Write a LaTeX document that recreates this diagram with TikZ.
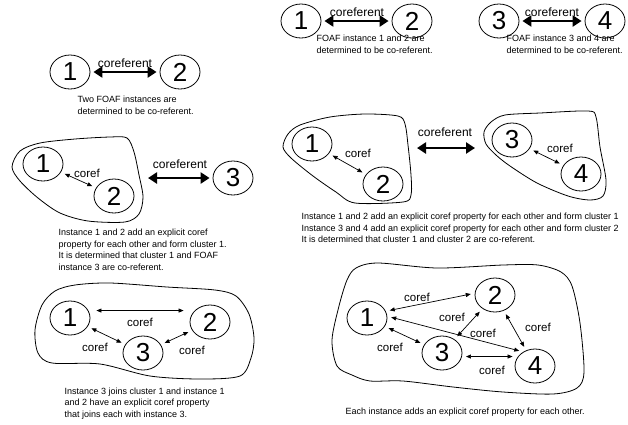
\documentclass[tikz,border=0pt]{standalone}
\usepackage{fontspec}
\setmainfont{Liberation Sans}
\usetikzlibrary{shapes.geometric,arrows.meta}

\begin{document}
\begin{tikzpicture}[x=1pt,y=-1pt,
    inst/.style={draw,ellipse,line width=0.8pt,minimum width=40pt,minimum height=34pt,inner sep=0pt,font=\fontsize{26}{30}\selectfont},
    strong/.style={line width=2.6pt,{Triangle[length=9pt,width=11pt]}-{Triangle[length=9pt,width=11pt]},shorten <=3pt,shorten >=3pt},
    weak/.style={line width=0.7pt,{Triangle[length=5pt,width=4pt]}-{Triangle[length=5pt,width=4pt]},shorten <=4pt,shorten >=4pt},
    cluster/.style={line width=0.8pt},
    biglbl/.style={font=\fontsize{12}{14}\selectfont},
    lbl/.style={font=\fontsize{11.5}{14}\selectfont},
    note/.style={anchor=west,align=left,font=\fontsize{9}{11.5}\selectfont}]
  \useasboundingbox (0,0) rectangle (628,424);

  % two instances
  \draw
    (70,72) node[inst] (a1){1}
    (180,72) node[inst] (a2){2}
    (125,63) node[biglbl] (a12){coreferent}
    (74,105.5) node[note] (acap){Two FOAF instances are\\determined to be co-referent.};
  \draw[strong] (a1) to (a2);

  % cluster and one instance
  \draw[cluster] plot[smooth cycle] coordinates {(12,167) (20,151) (40,143) (75,139) (110,137) (127,138) (134,152) (139,175) (143,197) (139,214) (125,222) (88,221) (60,213) (38,198) (20,181)};
  \draw
    (43,164) node[inst] (b1){1}
    (114,196) node[inst] (b2){2}
    (233,178) node[inst] (b3){3}
    (87,173) node[lbl] (b12){coref}
    (180,164) node[biglbl] (bclu3){coreferent}
    (55,250) node[note] (bcap){Instance 1 and 2 add an explicit coref\\property for each other and form cluster 1.\\It is determined that cluster 1 and FOAF\\instance 3 are co-referent.};
  \coordinate (bclu) at (145,178);
  \begin{scope}
    \draw[weak] (b1) to (b2);
    \draw[strong] (bclu) to (b3);
  \end{scope}

  % instance 3 joins cluster 1
  \draw[cluster] plot[smooth cycle] coordinates {(42,305) (55,291) (75,285) (110,283) (167,287) (215,290) (236,296) (249,314) (254,338) (251,358) (240,376) (200,379) (150,376) (100,364) (52,363) (38,353) (35,330)};
  \draw
    (70,318) node[inst] (c1){1}
    (210,322) node[inst] (c2){2}
    (143,353) node[inst] (c3){3}
    (140,322) node[lbl] (c12){coref}
    (95,347) node[lbl] (c13){coref}
    (192,350) node[lbl] (c23){coref}
    (61,403.5) node[note] (ccap){Instance 3 joins cluster 1 and instance 1\\and 2 have an explicit coref property\\that joins each with instance 3.};
  \begin{scope}
    \draw[weak,shorten <=8pt,shorten >=6pt] (c1.22) to (c1.22 -| c2.west);
    \draw[weak] (c1) to (c3);
    \draw[weak] (c2) to (c3);
  \end{scope}

  % two pairs
  \draw
    (301,21) node[inst] (d1){1}
    (412,21) node[inst] (d2){2}
    (499,21) node[inst] (d3){3}
    (605,21) node[inst] (d4){4}
    (357,12) node[biglbl] (d12){coreferent}
    (552,12) node[biglbl] (d34){coreferent}
    (313,44.5) node[note] (dcap1){FOAF instance 1 and 2 are\\determined to be co-referent.}
    (503,44.5) node[note] (dcap2){FOAF instance 3 and 4 are\\determined to be co-referent.};
  \draw[strong] (d1) to (d2);
  \draw[strong] (d3) to (d4);

  % two clusters
  \draw[cluster] plot[smooth cycle] coordinates {(288,134) (300,125) (330,117) (365,114) (398,116) (405,124) (408,145) (411,175) (411,195) (403,202) (355,203) (336,192) (313,176) (291,158) (283,147)};
  \draw[cluster] plot[smooth cycle] coordinates {(484,132) (491,122) (505,115) (540,113) (588,111) (596,117) (600,147) (606,180) (603,196) (590,200) (568,196) (537,183) (510,166) (496,155) (486,144)};
  \draw
    (312,144) node[inst] (e1){1}
    (383,184) node[inst] (e2){2}
    (512,140) node[inst] (e3){3}
    (581,174) node[inst] (e4){4}
    (358,153) node[lbl] (e12){coref}
    (560,148) node[lbl] (e34){coref}
    (445,132) node[biglbl] (eclu){coreferent}
    (298,228) node[note] (ecap){Instance 1 and 2 add an explicit coref property for each other and form cluster 1\\Instance 3 and 4 add an explicit coref property for each other and form cluster 2\\It is determined that cluster 1 and cluster 2 are co-referent.};
  \coordinate (eclu1) at (414,148);
  \coordinate (eclu2) at (478,148);
  \begin{scope}
    \draw[weak] (e1) to (e2);
    \draw[weak] (e3) to (e4);
    \draw[strong] (eclu1) to (eclu2);
  \end{scope}

  % all four in one cluster
  \draw[cluster] plot[smooth cycle] coordinates {(347,280) (356,268) (378,263) (437,268) (503,265) (538,265) (561,272) (572,286) (580,323) (584,372) (577,388) (553,394) (503,392) (453,387) (403,381) (370,381) (352,375) (337,366) (332,340) (339,306)};
  \draw
    (367,318) node[inst] (f1){1}
    (495,295) node[inst] (f2){2}
    (442,353) node[inst] (f3){3}
    (535,366) node[inst] (f4){4}
    (417,297) node[lbl] (f12){coref}
    (452,317) node[lbl] (f23){coref}
    (483,333) node[lbl] (f14){coref}
    (538,327) node[lbl] (f24){coref}
    (390,347) node[lbl] (f13){coref}
    (492,370) node[lbl] (f34){coref}
    (342,412) node[note] (fcap){Each instance adds an explicit coref property for each other.};
  \begin{scope}
    \draw[weak] (f1.20) to (f2.175);
    \draw[weak] (f1.5) to (f4.130);
    \draw[weak] (f1) to (f3);
    \draw[weak] (f2) to (f3);
    \draw[weak,shorten >=2pt] (f3.-10) to (f3.-10 -| f4.west);
    \draw[weak] (f2) to (f4);
  \end{scope}
\end{tikzpicture}
\end{document}
